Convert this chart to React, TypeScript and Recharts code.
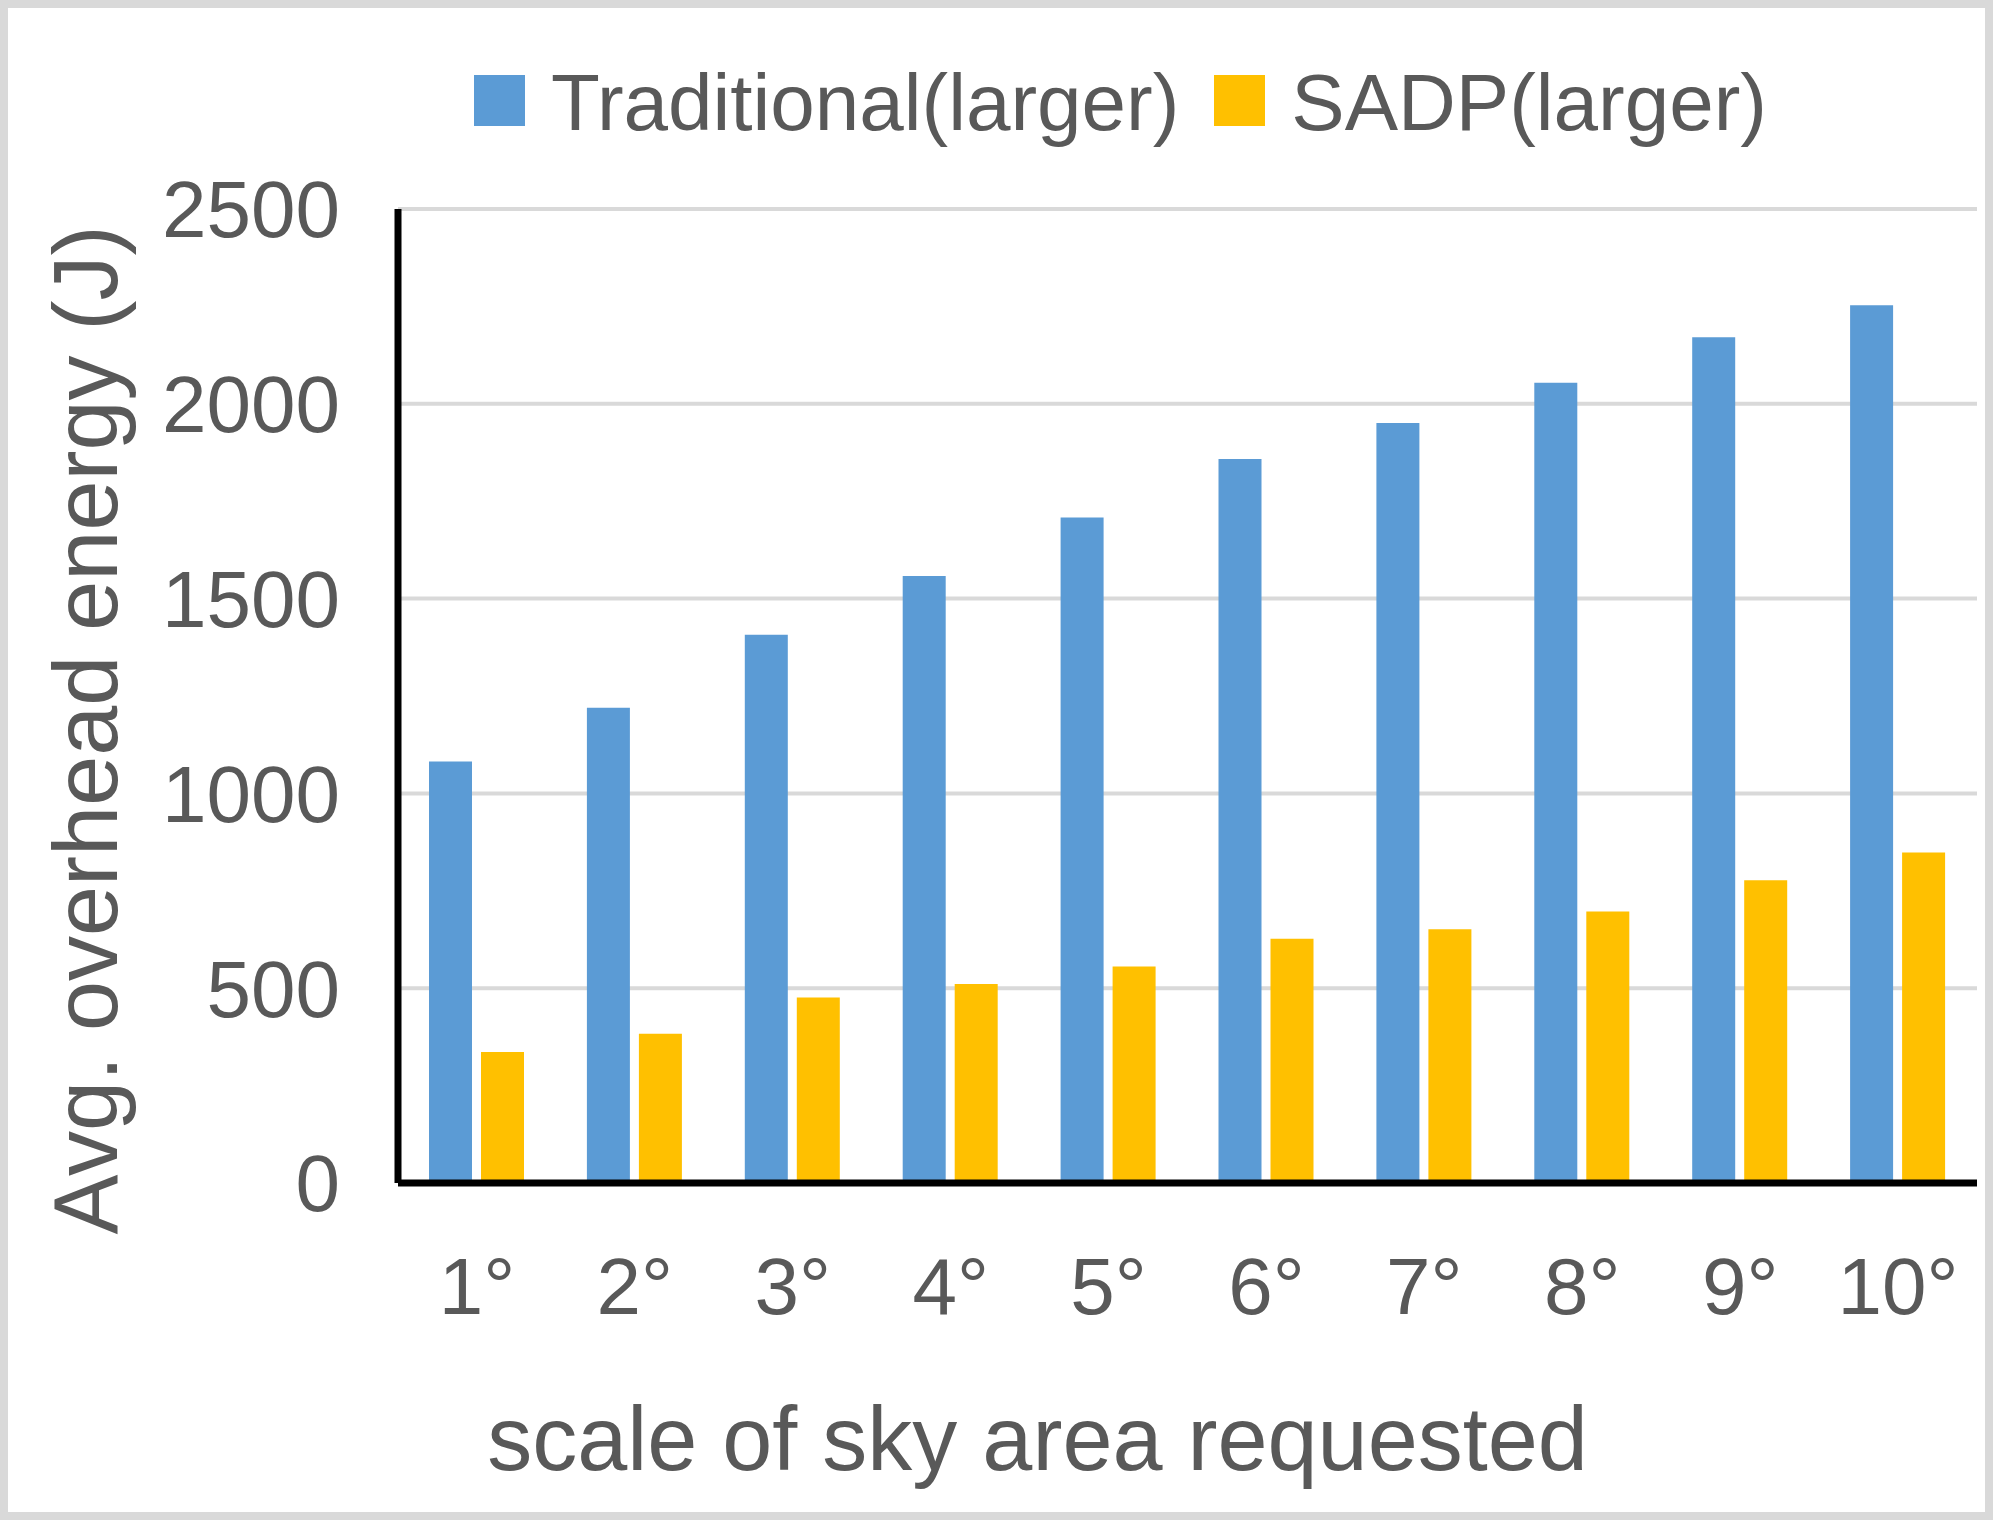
import React from 'react';
import { BarChart, Bar, XAxis, YAxis, CartesianGrid, Legend } from 'recharts';

const categories = ['1°', '2°', '3°', '4°', '5°', '6°', '7°', '8°', '9°', '10°'];
const traditional = [1082, 1220, 1407, 1558, 1708, 1858, 1951, 2054, 2171, 2253];
const sadp = [336, 383, 476, 511, 556, 627, 651, 697, 777, 848];
const yTicks = [0, 500, 1000, 1500, 2000, 2500];

const seriesNames = { traditional: 'Traditional(larger)', sadp: 'SADP(larger)' };
const seriesOrder = ['traditional', 'sadp'];

const data = categories.map((c, i) => ({ cat: c, traditional: traditional[i], sadp: sadp[i] }));

const FONT = '"Liberation Sans", Arial, Helvetica, sans-serif';
const TEXT = '#595959';

export default function App() {
  return (
    <div style={{ position: 'absolute', left: 0, top: 0, width: 2000, height: 1529, background: '#fff', overflow: 'hidden', fontFamily: FONT }}>
      <div style={{ position: 'absolute', left: 0, top: 0, width: 1993, height: 1520, boxSizing: 'border-box', border: '8px solid #d9d9d9' }} />
      <div style={{ position: 'absolute', left: 0, top: 0 }}>
        <BarChart
          width={2000}
          height={1529}
          data={data}
          margin={{ top: 209, right: 23, bottom: 246, left: 98 }}
          barSize={43}
          barGap={9}
          style={{ fontFamily: FONT }}
        >
          <CartesianGrid vertical={false} stroke="#d9d9d9" strokeWidth={4} />
          <XAxis
            dataKey="cat"
            height={100}
            interval={0}
            tickLine={false}
            tickSize={0}
            tickMargin={74}
            axisLine={{ stroke: '#000', strokeWidth: 7 }}
            tick={{ fill: TEXT, fontSize: 80, fontFamily: FONT }}
            label={{ value: 'scale of sky area requested', position: 'center', dx: -150, dy: 205, fill: TEXT, fontSize: 90, fontFamily: FONT }}
          />
          <YAxis
            width={300}
            domain={[0, 2500]}
            ticks={yTicks}
            interval={0}
            tickLine={false}
            tickSize={0}
            tickMargin={58}
            axisLine={{ stroke: '#000', strokeWidth: 7 }}
            tick={{ fill: TEXT, fontSize: 80, fontFamily: FONT }}
            label={{ value: 'Avg. overhead energy (J)', angle: -90, position: 'center', dx: -163, dy: 34, fill: TEXT, fontSize: 90, fontFamily: FONT }}
          />
          <Legend
            verticalAlign="middle"
            align="center"
            layout="horizontal"
            iconType="square"
            iconSize={51}
            itemSorter={(e: any) => seriesOrder.indexOf(e.dataKey)}
            wrapperStyle={{ top: 32, left: 438, width: 1400, fontFamily: FONT }}
            formatter={(value) => (
              <span style={{ color: TEXT, fontSize: 80, marginLeft: 22, marginRight: 25, position: 'relative', top: 25 }}>{value}</span>
            )}
          />
          <Bar dataKey="traditional" name={seriesNames.traditional} fill="#5B9BD5" isAnimationActive={false} />
          <Bar dataKey="sadp" name={seriesNames.sadp} fill="#FFC000" isAnimationActive={false} />
        </BarChart>
      </div>
    </div>
  );
}
